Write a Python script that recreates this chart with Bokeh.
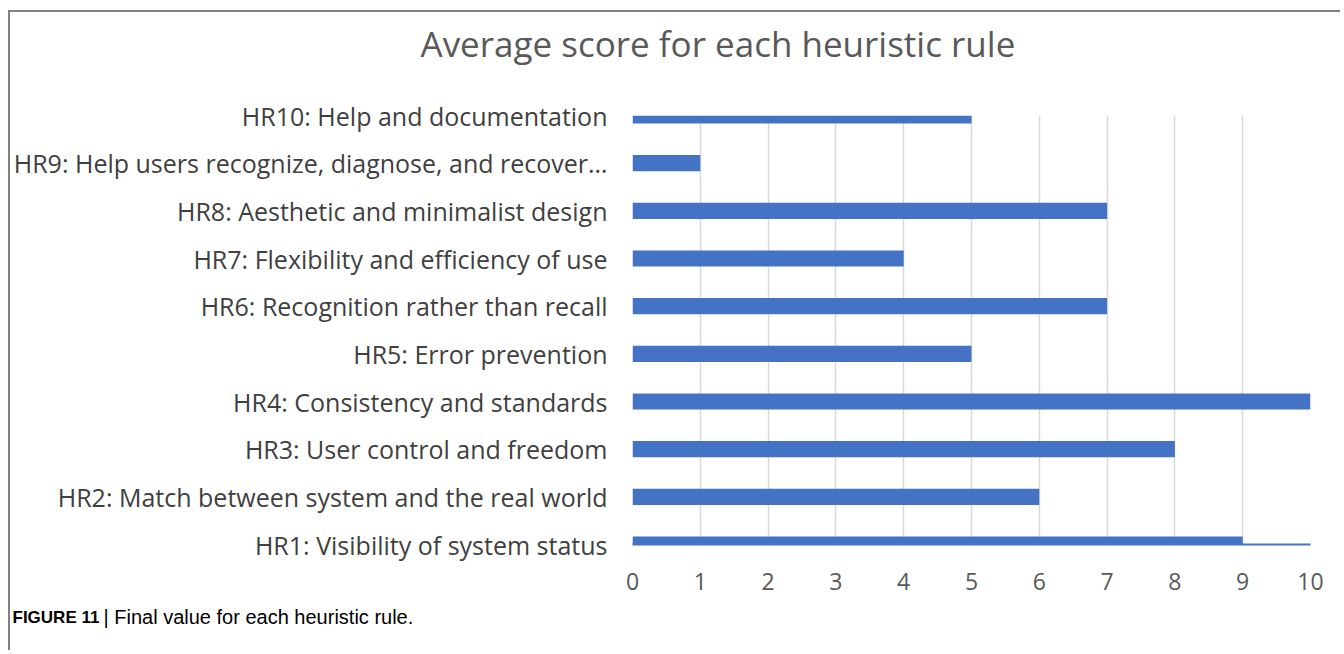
from bokeh.plotting import figure
from bokeh.models import Range1d, FixedTicker, Label
from bokeh.embed import file_html
from bokeh.resources import INLINE

categories = [
    "HR1: Visibility of system status",
    "HR2: Match between system and the real world",
    "HR3: User control and freedom",
    "HR4: Consistency and standards",
    "HR5: Error prevention",
    "HR6: Recognition rather than recall",
    "HR7: Flexibility and efficiency of use",
    "HR8: Aesthetic and minimalist design",
    "HR9: Help users recognize, diagnose, and recover…",
    "HR10: Help and documentation",
]
scores = [9, 6, 8, 10, 5, 7, 4, 7, 1, 5]
x_ticks = [0, 1, 2, 3, 4, 5, 6, 7, 8, 9, 10]
title_text = "Average score for each heuristic rule"
caption_bold = "FIGURE 11"
caption_text = "|  Final value for each heuristic rule."

positions = list(range(1, len(categories) + 1))

p = figure(
    width=1330, height=638,
    frame_width=678, frame_height=429,
    min_border_left=622, min_border_right=30,
    min_border_top=103, min_border_bottom=106,
    x_range=Range1d(0, 10), y_range=Range1d(1, 10),
    output_backend="svg", toolbar_location=None,
)
p.margin = (10, 0, 0, 8)
p.styles = {"border-top": "2px solid #808080", "border-left": "2px solid #808080"}
p.outline_line_color = None
p.background_fill_color = "white"
p.border_fill_color = "white"

p.hbar(y=positions, right=scores, left=0, height=0.34,
       fill_color="#4472C4", line_color=None)

# axes
p.xaxis.ticker = FixedTicker(ticks=x_ticks)
p.xaxis.axis_line_color = "#4472C4"
p.xaxis.axis_line_width = 2
p.xaxis.major_tick_line_color = None
p.xaxis.minor_tick_line_color = None
p.xaxis.major_label_standoff = 22
p.xaxis.major_label_text_font = "Open Sans"
p.xaxis.major_label_text_font_size = "23px"
p.xaxis.major_label_text_color = "#595959"

p.yaxis.ticker = FixedTicker(ticks=positions)
p.yaxis.major_label_overrides = {pos: cat for pos, cat in zip(positions, categories)}
p.yaxis.axis_line_color = None
p.yaxis.major_tick_line_color = None
p.yaxis.minor_tick_line_color = None
p.yaxis.major_tick_out = 0
p.yaxis.major_tick_in = 0
p.yaxis.major_label_standoff = 25
p.yaxis.major_label_text_font = "Open Sans"
p.yaxis.major_label_text_font_size = "25px"
p.yaxis.major_label_text_color = "#404040"

p.xgrid.grid_line_color = "#d9d9d9"
p.xgrid.grid_line_width = 1.5
p.ygrid.grid_line_color = None

# chart title in the top panel (x: pixels from the plot frame's left, y: value scale)
p.add_layout(Label(x=-212, y=11.51, x_units="screen", y_units="data",
                   text=title_text, text_align="left", text_baseline="middle",
                   text_font="Open Sans", text_font_size="35px",
                   text_color="#595959"), "above")

# caption in the bottom panel
p.add_layout(Label(x=-620, y=-0.53, x_units="screen", y_units="data",
                   text=caption_bold, text_align="left", text_baseline="middle",
                   text_font="Liberation Sans", text_font_size="17px",
                   text_font_style="bold", text_color="#000000"), "below")
p.add_layout(Label(x=-529, y=-0.53, x_units="screen", y_units="data",
                   text=caption_text, text_align="left", text_baseline="middle",
                   text_font="Liberation Sans", text_font_size="20px",
                   text_color="#000000"), "below")

open("out.html", "w").write(file_html(p, INLINE))
